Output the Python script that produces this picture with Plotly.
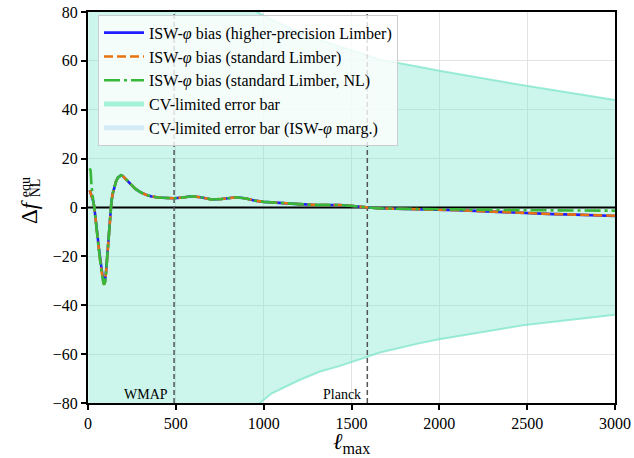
import plotly.graph_objects as go

# ---------------- data ----------------
ell_bias = [10, 15, 20, 25, 30, 36, 45, 55, 63, 72, 80, 87, 92, 97, 103, 108, 114, 120, 127,
            133, 140, 150, 160, 170, 180, 188, 198, 210, 230, 250, 270, 300, 330, 362, 400,
            450, 490, 540, 590, 640, 704, 760, 808, 846, 900, 951, 1000, 1093, 1200, 1281,
            1350, 1435, 1509, 1586, 1662, 1750, 1833, 1947, 2100, 2203, 2350, 2488, 2650,
            2772, 2900, 3000]
bias_hp = [7.0, 6.0, 5.0, 4.2, 2.5, 0.0, -5.0, -12.0, -17.4, -23.0, -27.5, -30.0, -31.0, -30.0,
           -26.0, -21.0, -15.0, -8.0, -2.5, 2.0, 5.5, 8.5, 10.8, 12.2, 13.0, 13.2, 12.9, 12.0,
           10.3, 8.8, 7.6, 6.2, 5.2, 4.5, 4.1, 3.9, 3.8, 4.1, 4.6, 4.2, 3.3, 3.5, 3.9, 4.2, 3.7,
           2.8, 2.3, 1.8, 1.4, 1.1, 1.1, 1.0, 0.6, 0.0, -0.4, -0.5, -0.6, -0.8, -1.1, -1.4,
           -1.9, -2.4, -2.7, -2.9, -3.2, -3.5]
bias_std = [7.0, 6.0, 5.0, 4.2, 2.5, 0.0, -5.2, -12.3, -17.8, -23.5, -28.0, -30.6, -31.6, -30.5,
            -26.4, -21.2, -15.1, -8.0, -2.5, 2.0, 5.5, 8.5, 10.8, 12.2, 13.0, 13.2, 12.9, 12.0,
            10.3, 8.8, 7.6, 6.2, 5.2, 4.5, 4.1, 3.9, 3.8, 4.1, 4.6, 4.2, 3.3, 3.5, 3.9, 4.2, 3.7,
            2.8, 2.3, 1.8, 1.4, 1.1, 1.1, 1.0, 0.6, 0.0, -0.4, -0.5, -0.6, -0.8, -1.1, -1.4,
            -1.9, -2.4, -2.7, -2.9, -3.2, -3.4]
bias_nl = [16.0, 15.0, 9.0, 4.3, 2.5, 0.0, -5.2, -12.3, -17.8, -23.5, -28.0, -30.6, -31.6, -30.5,
           -26.4, -21.2, -15.1, -8.0, -2.5, 2.0, 5.5, 8.5, 10.8, 12.2, 13.0, 13.2, 12.9, 12.0,
           10.3, 8.8, 7.6, 6.2, 5.2, 4.5, 4.1, 3.9, 3.8, 4.1, 4.6, 4.2, 3.3, 3.5, 3.9, 4.2, 3.7,
           2.8, 2.3, 1.8, 1.4, 1.1, 1.1, 1.0, 0.6, 0.0, -0.4, -0.5, -0.6, -0.7, -0.9, -1.0,
           -1.0, -1.1, -1.1, -1.2, -1.2, -1.3]

ell_cv = [2, 100, 300, 500, 700, 800, 900, 962, 1046, 1207, 1321, 1435, 1586, 1662, 1890,
          2000, 2477, 3000]
cv_upper = [900, 600, 300, 170, 115, 98, 86, 80, 76.8, 71.5, 68.5, 65.8, 62.0, 60.5, 57.5,
            56.0, 50.0, 44.0]
cv_lower = [-900, -600, -300, -170, -115, -98, -86, -81, -76, -70.5, -67.1, -64.8, -61.2,
            -59.3, -55.5, -53.9, -48.2, -43.9]

ell_wmap = 490
ell_planck = 1590

x_ticks = [0, 500, 1000, 1500, 2000, 2500, 3000]
y_ticks = [-80, -60, -40, -20, 0, 20, 40, 60, 80]

# ---------------- styling ----------------
FONT = "Liberation Serif"
band_fill = "rgba(120,230,205,0.38)"
band_edge = "rgba(120,228,200,0.7)"
c_blue = "#1e1eff"
c_orange = "#e8720e"
c_green = "#38b838"

fig = go.Figure()

# marginalised band (hidden behind)
fig.add_trace(go.Scatter(x=ell_cv, y=cv_upper, mode="lines", line=dict(width=0, color="#d3ecf6"),
                         showlegend=False, hoverinfo="skip"))
fig.add_trace(go.Scatter(x=ell_cv, y=cv_lower, mode="lines", line=dict(width=0, color="#d3ecf6"),
                         fill="tonexty", fillcolor="rgba(180,225,240,0.0)", showlegend=False,
                         hoverinfo="skip"))
# CV band
fig.add_trace(go.Scatter(x=ell_cv, y=cv_upper, mode="lines", line=dict(width=2, color=band_edge),
                         showlegend=False, hoverinfo="skip"))
fig.add_trace(go.Scatter(x=ell_cv, y=cv_lower, mode="lines", line=dict(width=2, color=band_edge),
                         fill="tonexty", fillcolor=band_fill, showlegend=False, hoverinfo="skip"))

# zero line and experiment lines
fig.add_trace(go.Scatter(x=[0, 3000], y=[0, 0], mode="lines", line=dict(color="black", width=2),
                         showlegend=False, hoverinfo="skip"))
for xv in (ell_wmap, ell_planck):
    fig.add_trace(go.Scatter(x=[xv, xv], y=[-80, 80], mode="lines",
                             line=dict(color="#555555", width=1.5, dash="5px,3px"),
                             showlegend=False, hoverinfo="skip"))

# bias curves
fig.add_trace(go.Scatter(x=ell_bias, y=bias_hp, mode="lines", line=dict(color=c_blue, width=2.6),
                         name="ISW-<i>φ</i> bias (higher-precision Limber)"))
fig.add_trace(go.Scatter(x=ell_bias, y=bias_std, mode="lines",
                         line=dict(color=c_orange, width=2.6, dash="9px,4px"),
                         name="ISW-<i>φ</i> bias (standard Limber)"))
fig.add_trace(go.Scatter(x=ell_bias, y=bias_nl, mode="lines",
                         line=dict(color=c_green, width=2.6, dash="16px,4px,3px,4px"),
                         name="ISW-<i>φ</i> bias (standard Limber, NL)"))
# legend-only entries for the bands
fig.add_trace(go.Scatter(x=[None], y=[None], mode="lines", line=dict(color="#a6f2d8", width=5),
                         name="CV-limited error bar"))
fig.add_trace(go.Scatter(x=[None], y=[None], mode="lines", line=dict(color="#d3ecf6", width=5),
                         name="CV-limited error bar (ISW-<i>φ</i> marg.)"))

axis_common = dict(showline=True, linecolor="black", linewidth=2, mirror=True,
                   ticks="outside", ticklen=5, tickwidth=2, tickcolor="black",
                   showgrid=True, gridcolor="#e3e3e3", gridwidth=1, zeroline=False,
                   automargin=False, ticklabeloverflow="allow",
                   tickfont=dict(family=FONT, size=16, color="black"))

fig.update_layout(
    width=634, height=458,
    margin=dict(l=88, r=19, t=12, b=55),
    paper_bgcolor="white", plot_bgcolor="white",
    xaxis=dict(range=[0, 3000], tickvals=x_ticks, **axis_common),
    yaxis=dict(range=[-80, 80], tickvals=y_ticks, **axis_common),
    showlegend=True,
    legend=dict(x=0.019, y=0.993, xanchor="left", yanchor="top", traceorder="normal",
                bgcolor="rgba(255,255,255,0.8)", bordercolor="#cccccc", borderwidth=1,
                font=dict(family=FONT, size=16, color="black"), tracegroupgap=0,
                itemwidth=40),
)

annots = [
    dict(text="Δ<i>f</i>", x=0, y=0.4885, xref="paper", yref="paper", xshift=-58,
         showarrow=False, textangle=-90, font=dict(family=FONT, size=23, color="black"),
         xanchor="center", yanchor="middle"),
    dict(text="equ", x=0, y=0.552, xref="paper", yref="paper", xshift=-63,
         showarrow=False, textangle=-90, font=dict(family=FONT, size=14, color="black"),
         xanchor="center", yanchor="middle"),
    dict(text="NL", x=0, y=0.549, xref="paper", yref="paper", xshift=-53,
         showarrow=False, textangle=-90, font=dict(family=FONT, size=14, color="black"),
         xanchor="center", yanchor="middle"),
    dict(text="<i>ℓ</i><sub>max</sub>", x=0.5, y=0, xref="paper", yref="paper", yshift=-40,
         showarrow=False, font=dict(family=FONT, size=23, color="black"),
         xanchor="center", yanchor="middle"),
    dict(text="WMAP", x=ell_wmap, y=-80, xref="x", yref="y", xshift=-4, yshift=9,
         showarrow=False, font=dict(family=FONT, size=14, color="black"),
         xanchor="right", yanchor="middle"),
    dict(text="Planck", x=ell_planck, y=-80, xref="x", yref="y", xshift=-4, yshift=9,
         showarrow=False, font=dict(family=FONT, size=14, color="black"),
         xanchor="right", yanchor="middle"),
]
fig.update_layout(annotations=annots)

# remove the default 8px page margin so the figure fills the window exactly
fig.write_html("out.html", config={"displayModeBar": False},
               post_script="document.body.style.margin='0';")
